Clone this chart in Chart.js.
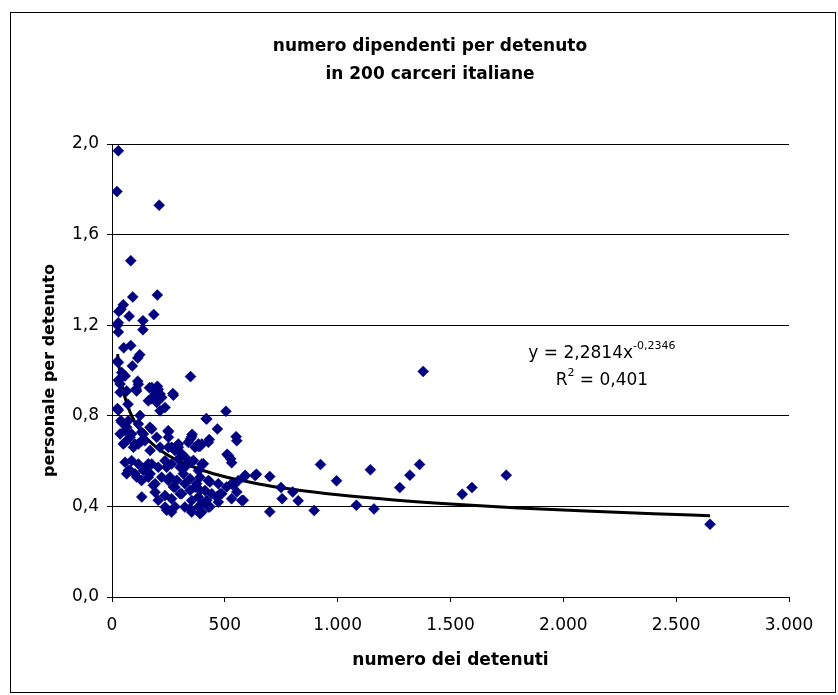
<!DOCTYPE html>
<html>
<head>
<meta charset="utf-8">
<title>numero dipendenti per detenuto</title>
<script src="https://cdn.jsdelivr.net/npm/chart.js@4/dist/chart.umd.min.js"></script>
<style>
    html, body { margin: 0; padding: 0; background: #fff; }
</style>
</head>
<body>
<canvas id="scatterChart" width="838" height="695"></canvas>
<script>
// numero dei detenuti (x) e personale per detenuto (y)
const detenuti = [
    28, 22, 209, 83, 92, 201, 185, 40, 30, 50, 76, 137, 137, 24, 28, 52, 83, 123, 114, 24,
    90, 28, 114, 36, 107, 166, 201, 173, 209, 270, 348, 24, 71, 417, 505, 467, 550, 355, 348, 431,
    384, 249, 510, 526, 924, 995, 1145, 1363, 1320, 1275, 1379, 1083, 1161, 896, 699, 699, 640, 588, 749, 754,
    801, 825, 1552, 1595, 1747, 2650,
    28, 28, 43, 36, 65, 272, 28, 420, 353, 390, 427, 250, 39, 65, 36, 80, 50, 95, 124, 139,
    176, 198, 213, 169, 530, 279, 309, 331, 361, 405, 302, 58, 80, 65, 109, 139, 169, 161, 183, 132,
    242, 257, 287, 316, 346, 375, 434, 272, 302, 346, 390, 420, 464, 205, 242, 279, 346, 390, 434, 479,
    508, 538, 553, 582, 590,
    35, 58, 117, 109, 176, 205, 191, 213, 161, 198, 220, 235, 213, 43, 72, 58, 87, 117, 131, 146,
    117, 168, 250, 250, 294, 383,
    58, 102, 131, 264, 294, 338, 368, 87, 117, 72, 102, 146, 176, 205, 235, 264, 294, 323, 353, 383,
    131, 161, 191, 220, 250, 279, 323, 368, 191, 235, 264, 309, 353, 383, 235, 264, 323, 353, 397,
    398, 553, 516, 398, 390, 427, 412, 383, 442, 471, 486, 530, 560, 634, 398, 427, 471, 530, 575
];
const personale = [
    1.97, 1.79, 1.73, 1.485, 1.325, 1.333, 1.247, 1.27, 1.26, 1.29, 1.24, 1.22, 1.18, 1.20, 1.17, 1.10, 1.11, 1.07, 1.055, 1.04,
    1.02, 0.957, 0.953, 0.904, 0.918, 0.924, 0.93, 0.875, 0.894, 0.898, 0.973, 0.832, 0.851, 0.787, 0.82, 0.742, 0.708, 0.718, 0.699, 0.695,
    0.665, 0.734, 0.63, 0.61, 0.585, 0.513, 0.562, 0.585, 0.538, 0.483, 0.996, 0.405, 0.389, 0.382, 0.376, 0.532, 0.542, 0.532, 0.483, 0.434,
    0.464, 0.425, 0.454, 0.483, 0.538, 0.321,
    1.211, 1.035, 0.991, 0.940, 0.910, 0.891, 0.825, 0.786, 0.708, 0.666, 0.683, 0.730, 0.779, 0.749, 0.720, 0.705, 0.676, 0.661, 0.801, 0.720,
    0.742, 0.705, 0.661, 0.647, 0.593, 0.647, 0.632, 0.610, 0.603, 0.588, 0.573, 0.595, 0.559, 0.544, 0.530, 0.559, 0.544, 0.588, 0.493, 0.442,
    0.573, 0.530, 0.515, 0.544, 0.522, 0.500, 0.508, 0.486, 0.456, 0.471, 0.471, 0.427, 0.442, 0.427, 0.383, 0.398, 0.390, 0.368, 0.398, 0.456,
    0.486, 0.493, 0.464, 0.427, 0.537,
    0.961, 0.976, 0.939, 0.910, 0.925, 0.917, 0.896, 0.896, 0.866, 0.859, 0.881, 0.837, 0.822, 0.771, 0.778, 0.734, 0.720, 0.764, 0.727, 0.690,
    0.676, 0.749, 0.705, 0.661, 0.661, 0.676,
    0.683, 0.675, 0.690, 0.661, 0.675, 0.683, 0.661, 0.602, 0.587, 0.558, 0.544, 0.565, 0.587, 0.573, 0.602, 0.587, 0.609, 0.573, 0.595, 0.558,
    0.514, 0.529, 0.500, 0.529, 0.514, 0.485, 0.500, 0.485, 0.463, 0.448, 0.434, 0.456, 0.426, 0.397, 0.397, 0.375, 0.397, 0.375, 0.412,
    0.675, 0.690, 0.624, 0.587, 0.529, 0.514, 0.470, 0.441, 0.456, 0.500, 0.456, 0.500, 0.514, 0.536, 0.375, 0.397, 0.419, 0.434, 0.426
];

// linea di tendenza (potenza) come indicata nel grafico
const trendA = 2.2814;
const trendB = -0.2346;
const trendR2 = '0,401';
const trendX = [25, 30, 40, 50, 60, 80, 100, 130, 160, 200, 250, 300, 400, 500, 650, 800, 1000, 1250, 1500, 1800, 2100, 2400, 2650];

const titleLines = ['numero dipendenti per detenuto', 'in 200 carceri italiane'];
const xTitle = 'numero dei detenuti';
const yTitle = 'personale per detenuto';

const FONT = '"DejaVu Sans", sans-serif';

function formatThousands(v) {
    if (v >= 1000) {
        return Math.floor(v / 1000) + '.' + String(v % 1000).padStart(3, '0');
    }
    return String(v);
}

const framePlugin = {
    id: 'frame',
    beforeDraw(chart) {
        const ctx = chart.ctx;
        ctx.save();
        ctx.fillStyle = '#fff';
        ctx.fillRect(0, 0, chart.width, chart.height);
        ctx.strokeStyle = '#000';
        ctx.lineWidth = 1;
        ctx.strokeRect(10.5, 12.5, 825, 680);
        ctx.restore();
    },
    afterDraw(chart) {
        const ctx = chart.ctx;
        ctx.save();
        ctx.fillStyle = '#000';
        ctx.textAlign = 'center';
        ctx.textBaseline = 'middle';
        ctx.font = 'bold 17px ' + FONT;
        ctx.fillText(titleLines[0], 430, 47);
        ctx.fillText(titleLines[1], 430, 75);

        // equazione della tendenza
        const xs = chart.scales.x, ys = chart.scales.y;
        const cx = xs.getPixelForValue(2171);
        const y1 = ys.getPixelForValue(1.081);
        const y2 = ys.getPixelForValue(0.963);
        ctx.textAlign = 'left';
        ctx.textBaseline = 'alphabetic';
        const main = 'y = ' + String(trendA).replace('.', ',') + 'x';
        const sup = String(trendB).replace('.', ',');
        ctx.font = '17px ' + FONT;
        const wMain = ctx.measureText(main).width;
        ctx.font = '11px ' + FONT;
        const wSup = ctx.measureText(sup).width;
        let sx = cx - (wMain + wSup) / 2;
        ctx.font = '17px ' + FONT;
        ctx.fillText(main, sx, y1 + 6);
        ctx.font = '11px ' + FONT;
        ctx.fillText(sup, sx + wMain, y1 - 3);

        ctx.font = '17px ' + FONT;
        const wR = ctx.measureText('R').width;
        const rest = ' = ' + trendR2;
        const wRest = ctx.measureText(rest).width;
        ctx.font = '11px ' + FONT;
        const w2 = ctx.measureText('2').width;
        sx = cx - (wR + w2 + wRest) / 2;
        ctx.font = '17px ' + FONT;
        ctx.fillText('R', sx, y2 + 6);
        ctx.fillText(rest, sx + wR + w2, y2 + 6);
        ctx.font = '11px ' + FONT;
        ctx.fillText('2', sx + wR, y2 - 3);
        ctx.restore();
    }
};

document.addEventListener('DOMContentLoaded', function() {
    const points = detenuti.map((x, i) => ({ x: x, y: personale[i] }));
    const trend = trendX.map(x => ({ x: x, y: trendA * Math.pow(x, trendB) }));

    const ctx = document.getElementById('scatterChart').getContext('2d');
    new Chart(ctx, {
        type: 'scatter',
        data: {
            datasets: [{
                label: 'personale per detenuto',
                data: points,
                pointStyle: 'rectRot',
                pointRadius: 5.5,
                borderWidth: 0.5,
                backgroundColor: '#000080',
                borderColor: '#000080'
            }, {
                label: 'tendenza',
                type: 'line',
                data: trend,
                borderColor: '#000',
                borderWidth: 3,
                pointRadius: 0,
                cubicInterpolationMode: 'monotone',
                fill: false
            }]
        },
        options: {
            responsive: false,
            animation: false,
            layout: {
                padding: { left: 10, right: 49, top: 144, bottom: 24 }
            },
            plugins: {
                legend: { display: false },
                tooltip: { enabled: false }
            },
            scales: {
                x: {
                    type: 'linear',
                    min: 0,
                    max: 3000,
                    afterFit: function(scale) { scale.height = 74; },
                    ticks: {
                        stepSize: 500,
                        padding: 13,
                        color: '#000',
                        font: { family: FONT, size: 17 },
                        callback: function(value) { return formatThousands(value); }
                    },
                    grid: {
                        drawOnChartArea: false,
                        drawTicks: true,
                        tickLength: 5,
                        color: '#000'
                    },
                    border: { color: '#000', width: 1 },
                    title: {
                        display: true,
                        text: xTitle,
                        color: '#000',
                        font: { family: FONT, size: 17, weight: 'bold' },
                        padding: { top: 0, bottom: 0 }
                    }
                },
                y: {
                    min: 0,
                    max: 2,
                    afterFit: function(scale) { scale.width = 102; },
                    ticks: {
                        stepSize: 0.4,
                        padding: 8,
                        color: '#000',
                        font: { family: FONT, size: 17 },
                        callback: function(value) { return value.toFixed(1).replace('.', ','); }
                    },
                    grid: {
                        color: '#000',
                        lineWidth: 1,
                        tickLength: 5
                    },
                    border: { color: '#000', width: 1 },
                    title: {
                        display: true,
                        text: yTitle,
                        color: '#000',
                        font: { family: FONT, size: 16, weight: 'bold' },
                        padding: { top: 30, bottom: 0 }
                    }
                }
            }
        },
        plugins: [framePlugin]
    });
});
</script>
</body>
</html>
